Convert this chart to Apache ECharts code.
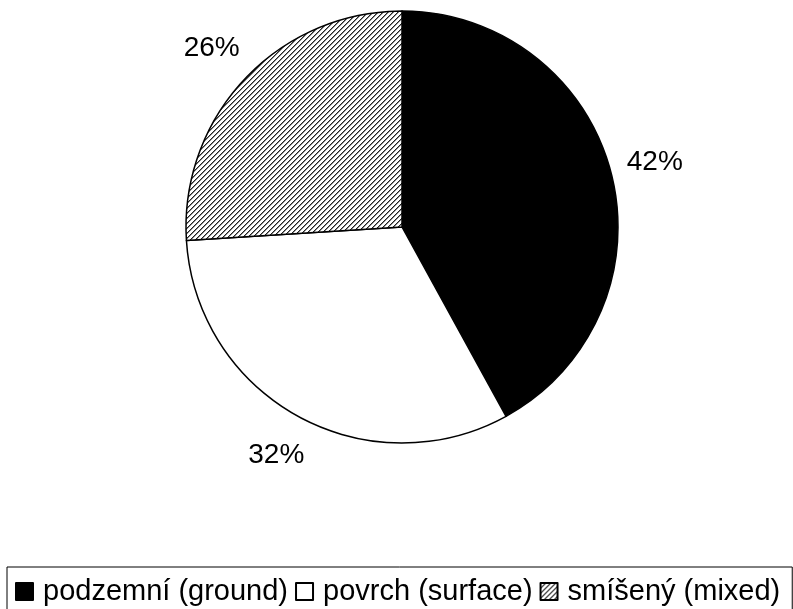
<!DOCTYPE html>
<html>
<head>
<meta charset="utf-8">
<script src="https://cdn.jsdelivr.net/npm/echarts@6/dist/echarts.min.js"></script>
<style>
  html, body { margin: 0; padding: 0; background: #fff; }
  #chart { width: 793px; height: 609px; }
</style>
</head>
<body>
<div id="chart"></div>
<script>
const categories = ['podzemní (ground)', 'povrch (surface)', 'smíšený (mixed)'];
const shares = [42, 32, 26];

const CENTER = [402, 227];
const RADIUS = 216;
const FONT = 'Liberation Sans, Arial, sans-serif';

// diagonal hatch tile for the mixed slice
function hatchPattern() {
  const n = 5;
  const c = document.createElement('canvas');
  c.width = n;
  c.height = n;
  const ctx = c.getContext('2d');
  ctx.fillStyle = '#fff';
  ctx.fillRect(0, 0, n, n);
  for (let i = 0; i < n; i++) {
    ctx.fillStyle = '#222';
    ctx.fillRect(i, n - 1 - i, 1, 1);
    ctx.fillStyle = '#888';
    ctx.fillRect(i, (n - i) % n, 1, 1);
  }
  return c;
}

const fills = ['#000', '#fff', { image: hatchPattern(), repeat: 'repeat' }];

const total = shares.reduce((a, b) => a + b, 0);
function midAngle(idx) {
  let before = 0;
  for (let i = 0; i < idx; i++) before += shares[i];
  return ((before + shares[idx] / 2) / total) * Math.PI * 2;
}

const chart = echarts.init(document.getElementById('chart'), null, { renderer: 'canvas' });
chart.setOption({
  animation: false,
  backgroundColor: '#fff',
  legend: {
    data: categories,
    left: 7,
    top: 567,
    orient: 'horizontal',
    borderColor: '#000',
    borderWidth: 1,
    padding: [10, 12, 10, 8],
    itemWidth: 17,
    itemHeight: 17,
    itemGap: 7,
    icon: 'rect',
    textStyle: { fontFamily: FONT, fontSize: 29, color: '#000', padding: [0, 0, 0, 5] },
  },
  series: [{
    type: 'pie',
    center: CENTER,
    radius: RADIUS,
    startAngle: 90,
    clockwise: true,
    avoidLabelOverlap: false,
    data: categories.map((name, i) => ({
      name,
      value: shares[i],
      itemStyle: { color: fills[i] },
    })),
    itemStyle: { borderColor: '#000', borderWidth: 1.5 },
    emphasis: { disabled: true },
    label: {
      show: true,
      position: 'outside',
      formatter: '{c}%',
      fontFamily: FONT,
      fontSize: 28,
      color: '#000',
    },
    labelLine: { show: false },
    labelLayout: (p) => {
      const a = midAngle(p.dataIndex);
      const r = RADIUS + 45;
      return {
        x: CENTER[0] + r * Math.sin(a),
        y: CENTER[1] - r * Math.cos(a),
        align: 'center',
        verticalAlign: 'middle',
      };
    },
  }],
});
</script>
</body>
</html>
